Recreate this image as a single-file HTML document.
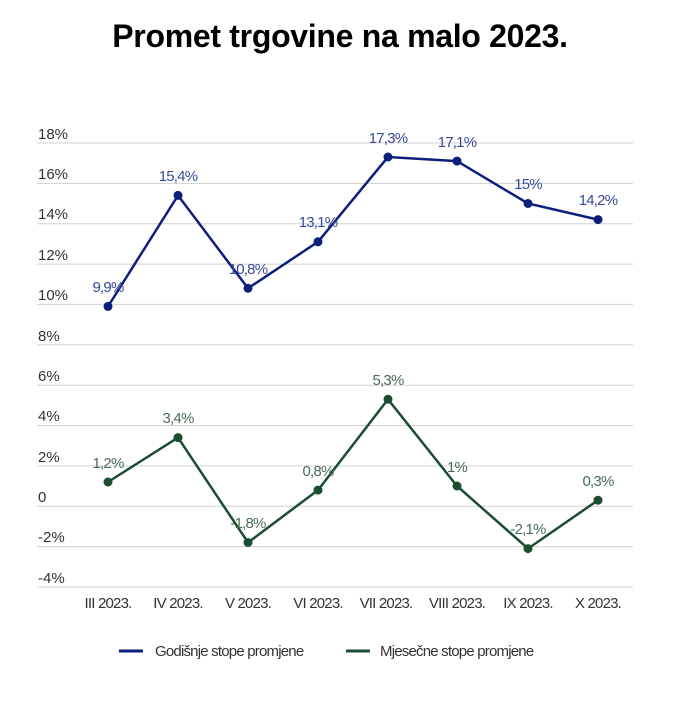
<!DOCTYPE html>
<html><head><meta charset="utf-8"><style>
body{margin:0;background:#fff;width:700px;height:712px;overflow:hidden}
svg{display:block;font-family:"Liberation Sans",sans-serif}
</style></head><body>
<svg width="700" height="712" viewBox="0 0 700 712">
<text x="340" y="47" text-anchor="middle" font-size="32" font-weight="bold" fill="#000" letter-spacing="-0.3">Promet trgovine na malo 2023.</text>
<g stroke="#d0d0d0" stroke-width="1">
<line x1="37" x2="633" y1="143" y2="143"/><line x1="37" x2="633" y1="183.4" y2="183.4"/>
<line x1="37" x2="633" y1="223.7" y2="223.7"/><line x1="37" x2="633" y1="264.1" y2="264.1"/>
<line x1="37" x2="633" y1="304.4" y2="304.4"/><line x1="37" x2="633" y1="344.8" y2="344.8"/>
<line x1="37" x2="633" y1="385.2" y2="385.2"/><line x1="37" x2="633" y1="425.5" y2="425.5"/>
<line x1="37" x2="633" y1="465.9" y2="465.9"/><line x1="37" x2="633" y1="506.2" y2="506.2"/>
<line x1="37" x2="633" y1="546.6" y2="546.6"/><line x1="37" x2="633" y1="587" y2="587"/>
</g>
<g font-size="15" fill="#333">
<text x="38" y="139">18%</text><text x="38" y="179">16%</text><text x="38" y="219">14%</text>
<text x="38" y="260">12%</text><text x="38" y="300">10%</text><text x="38" y="341">8%</text>
<text x="38" y="381">6%</text><text x="38" y="421">4%</text><text x="38" y="462">2%</text>
<text x="38" y="502">0</text><text x="38" y="542">-2%</text><text x="38" y="583">-4%</text>
</g>
<g font-size="15" fill="#333" text-anchor="middle" letter-spacing="-0.8">
<text x="108" y="608">III 2023.</text><text x="178" y="608">IV 2023.</text><text x="248" y="608">V 2023.</text>
<text x="318" y="608">VI 2023.</text><text x="386" y="608">VII 2023.</text><text x="457" y="608">VIII 2023.</text>
<text x="528" y="608">IX 2023.</text><text x="598" y="608">X 2023.</text>
</g>
<polyline fill="none" stroke="#0d1f7a" stroke-width="2.5" points="108,306.4 178,195.4 248,288.3 318,241.8 388,157 457,161.1 528,203.5 598,219.6"/>
<g fill="#0d1f7a"><circle cx="108" cy="306.4" r="4.5"/><circle cx="178" cy="195.4" r="4.5"/><circle cx="248" cy="288.3" r="4.5"/><circle cx="318" cy="241.8" r="4.5"/><circle cx="388" cy="157" r="4.5"/><circle cx="457" cy="161.1" r="4.5"/><circle cx="528" cy="203.5" r="4.5"/><circle cx="598" cy="219.6" r="4.5"/></g>
<g font-size="15" fill="#3a4a9a" text-anchor="middle" letter-spacing="-0.8">
<text x="108" y="292">9,9%</text><text x="178" y="181">15,4%</text><text x="248" y="274">10,8%</text><text x="318" y="227">13,1%</text>
<text x="388" y="143">17,3%</text><text x="457" y="147">17,1%</text><text x="528" y="189">15%</text><text x="598" y="205">14,2%</text>
</g>
<polyline fill="none" stroke="#1d4d30" stroke-width="2.5" points="108,482 178,437.6 248,542.5 318,490.1 388,399.3 457,486 528,548.6 598,500.2"/>
<g fill="#1d4d30"><circle cx="108" cy="482" r="4.5"/><circle cx="178" cy="437.6" r="4.5"/><circle cx="248" cy="542.5" r="4.5"/><circle cx="318" cy="490.1" r="4.5"/><circle cx="388" cy="399.3" r="4.5"/><circle cx="457" cy="486" r="4.5"/><circle cx="528" cy="548.6" r="4.5"/><circle cx="598" cy="500.2" r="4.5"/></g>
<g font-size="15" fill="#4a6e58" text-anchor="middle" letter-spacing="-0.8">
<text x="108" y="468">1,2%</text><text x="178" y="423">3,4%</text><text x="248" y="528">-1,8%</text><text x="318" y="476">0,8%</text>
<text x="388" y="385">5,3%</text><text x="457" y="472">1%</text><text x="528" y="534">-2,1%</text><text x="598" y="486">0,3%</text>
</g>
<line x1="119" x2="143" y1="651" y2="651" stroke="#0d1f7a" stroke-width="3"/>
<text x="155" y="656" font-size="15" fill="#333" letter-spacing="-0.8">Godišnje stope promjene</text>
<line x1="346" x2="370" y1="651" y2="651" stroke="#1d4d30" stroke-width="3"/>
<text x="380" y="656" font-size="15" fill="#333" letter-spacing="-0.8">Mjesečne stope promjene</text>
</svg>
</body></html>
